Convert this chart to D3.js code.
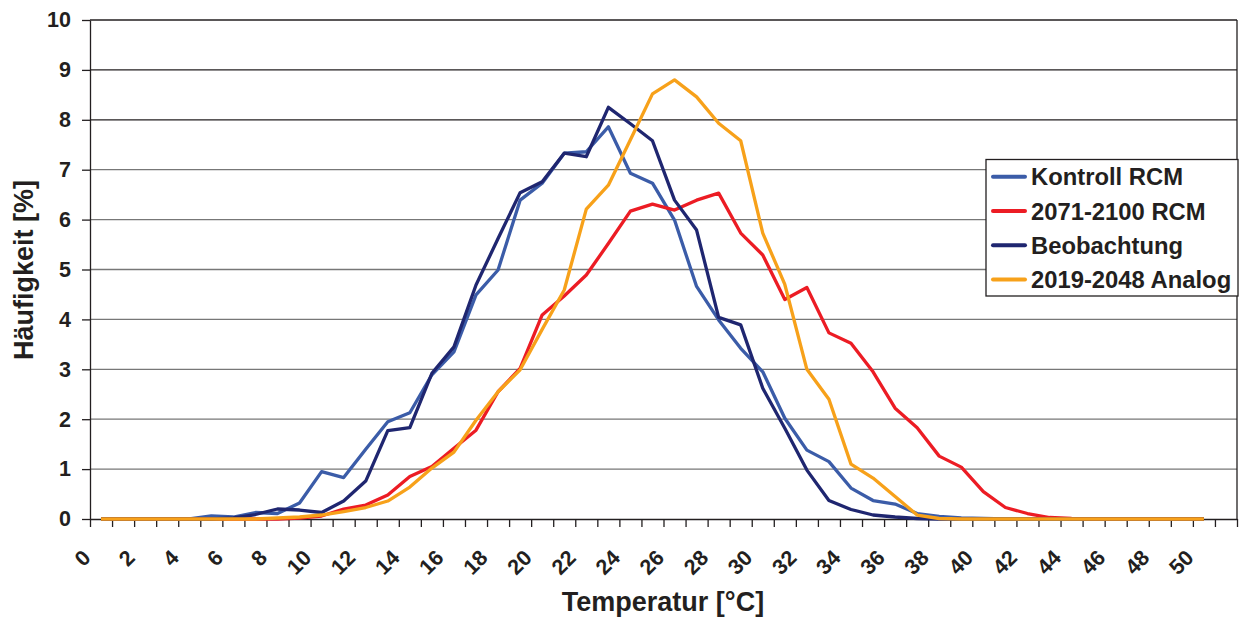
<!DOCTYPE html>
<html>
<head>
<meta charset="utf-8">
<script src="https://cdnjs.cloudflare.com/ajax/libs/d3/7.8.5/d3.min.js"></script>
<style>
  body { margin: 0; background: #fff; }
  svg text { font-family: "Liberation Sans", Arial, sans-serif; font-weight: bold; fill: #231f20; }
</style>
</head>
<body>
<div id="viz"></div>
<script>
// temperature classes (°C), one band each
var categories = [0,1,2,3,4,5,6,7,8,9,10,11,12,13,14,15,16,17,18,19,20,21,22,23,24,25,
                  26,27,28,29,30,31,32,33,34,35,36,37,38,39,40,41,42,43,44,45,46,47,48,49,50,51];
var xLabels = [0,2,4,6,8,10,12,14,16,18,20,22,24,26,28,30,32,34,36,38,40,42,44,46,48,50];
var yTicks = [0,1,2,3,4,5,6,7,8,9,10];

var seriesNames = ['Kontroll RCM', '2071-2100 RCM', 'Beobachtung', '2019-2048 Analog'];
var seriesColours = ['#3b5ca8', '#ec1c24', '#1f2670', '#f7a11a'];

// Häufigkeit [%] for classes 0..50
var kontroll = [0,0,0,0,0,0.06,0.04,0.13,0.11,0.32,0.95,0.83,1.40,1.95,2.13,2.89,3.35,4.49,4.99,6.39,
                6.73,7.33,7.36,7.86,6.93,6.73,5.99,4.66,3.99,3.42,2.95,2.02,1.38,1.15,0.62,0.37,0.30,0.11,
                0.05,0.02,0.01,0,0,0,0,0,0,0,0,0,0];
var rcm2071 = [0,0,0,0,0,0,0,0,0,0.02,0.06,0.20,0.28,0.48,0.85,1.05,1.42,1.78,2.55,3.02,
               4.09,4.47,4.89,5.52,6.17,6.31,6.19,6.39,6.53,5.73,5.29,4.40,4.64,3.73,3.52,2.95,2.22,1.83,
               1.26,1.04,0.55,0.23,0.11,0.03,0.01,0,0,0,0,0,0];
var beobachtung = [0,0,0,0,0,0,0.02,0.09,0.20,0.18,0.13,0.36,0.76,1.77,1.83,2.92,3.45,4.69,5.62,6.54,
                   6.76,7.33,7.26,8.25,7.92,7.58,6.39,5.79,4.04,3.89,2.62,1.82,0.98,0.37,0.19,0.08,0.04,0.01,
                   0,0,0,0,0,0,0,0,0,0,0,0,0];
var analog = [0,0,0,0,0,0,0,0,0.02,0.04,0.08,0.15,0.23,0.36,0.64,1.02,1.34,1.98,2.55,2.99,
              3.80,4.59,6.21,6.69,7.60,8.52,8.80,8.46,7.93,7.58,5.73,4.70,3.00,2.40,1.10,0.82,0.45,0.08,
              0.01,0,0,0,0,0,0,0,0,0,0,0,0];

var allSeries = [kontroll, rcm2071, beobachtung, analog];

var margin = { top: 20, right: 2, bottom: 99, left: 90 },
    width = 1239 - margin.left - margin.right,
    height = 618 - margin.top - margin.bottom;

var svg = d3.select('#viz').append('svg')
    .attr('width', 1239)
    .attr('height', 618);

var chart = svg.append('g')
    .attr('transform', 'translate(' + margin.left + ',' + margin.top + ')');

var yScale = d3.scaleLinear()
    .domain([0, 10])
    .range([height, 0]);

var xScale = d3.scaleBand()
    .domain(categories)
    .range([0, width]);

// band edges, for the tick marks between classes
var xEdges = d3.scaleLinear()
    .domain([0, categories.length])
    .range([0, width]);

var bw = xScale.bandwidth();

// gridlines
chart.append('g').selectAll('line')
    .data(yTicks.filter(function(d) { return d > 0; }))
    .enter().append('line')
    .attr('x1', 0)
    .attr('x2', width)
    .attr('y1', function(d) { return yScale(d); })
    .attr('y2', function(d) { return yScale(d); })
    .style('stroke', function(d) { return d >= 8 ? '#231f20' : '#777'; })
    .style('stroke-width', 1.3);

// right border
chart.append('line')
    .attr('x1', width).attr('x2', width)
    .attr('y1', 0).attr('y2', height)
    .style('stroke', '#231f20')
    .style('stroke-width', 1.3);

var yAxis = chart.append('g')
    .call(d3.axisLeft(yScale).tickValues(yTicks).tickSize(8).tickSizeOuter(0).tickPadding(11));
yAxis.selectAll('text').style('font-size', '21.5px');

var xAxis = chart.append('g')
    .attr('transform', 'translate(0,' + height + ')')
    .call(d3.axisBottom(xEdges)
        .tickValues(d3.range(0, categories.length + 1))
        .tickSize(8).tickSizeOuter(0)
        .tickFormat(''));

chart.selectAll('.domain, .tick line')
    .style('stroke', '#231f20')
    .style('stroke-width', 1.3);

chart.append('g').selectAll('text')
    .data(xLabels)
    .enter().append('text')
    .attr('transform', function(d) {
        return 'translate(' + (xScale(d) + bw / 2 - 9) + ',' + (height + 40) + ') rotate(-45)';
    })
    .attr('text-anchor', 'end')
    .style('font-size', '21.5px')
    .text(function(d) { return d; });

// series
var line = d3.line()
    .x(function(d, i) { return xScale(categories[i]) + bw / 2; })
    .y(function(d) { return yScale(d); });

chart.append('g').selectAll('path')
    .data(allSeries)
    .enter().append('path')
    .attr('d', line)
    .style('fill', 'none')
    .style('stroke', function(d, i) { return seriesColours[i]; })
    .style('stroke-width', 3.3)
    .style('stroke-linejoin', 'round');

// axis titles
svg.append('text')
    .attr('transform', 'translate(33,270) rotate(-90)')
    .attr('text-anchor', 'middle')
    .style('font-size', '27px')
    .text('Häufigkeit [%]');

svg.append('text')
    .attr('x', 663)
    .attr('y', 611)
    .attr('text-anchor', 'middle')
    .style('font-size', '27px')
    .text('Temperatur [°C]');

// legend
var legend = svg.append('g')
    .attr('transform', 'translate(986,159.5)');

legend.append('rect')
    .attr('width', 252)
    .attr('height', 136.5)
    .style('fill', '#fff')
    .style('stroke', '#231f20')
    .style('stroke-width', 1.3);

var items = legend.selectAll('.item')
    .data(seriesNames)
    .enter().append('g')
    .attr('class', 'item')
    .attr('transform', function(d, i) { return 'translate(0,' + (17.2 + i * 34.3) + ')'; });

items.append('line')
    .attr('x1', 7).attr('x2', 39)
    .style('stroke', function(d, i) { return seriesColours[i]; })
    .style('stroke-width', 4)
    .style('stroke-linecap', 'round');

items.append('text')
    .attr('x', 45)
    .attr('y', 8.5)
    .style('font-size', '23.8px')
    .text(function(d) { return d; });
</script>
</body>
</html>
